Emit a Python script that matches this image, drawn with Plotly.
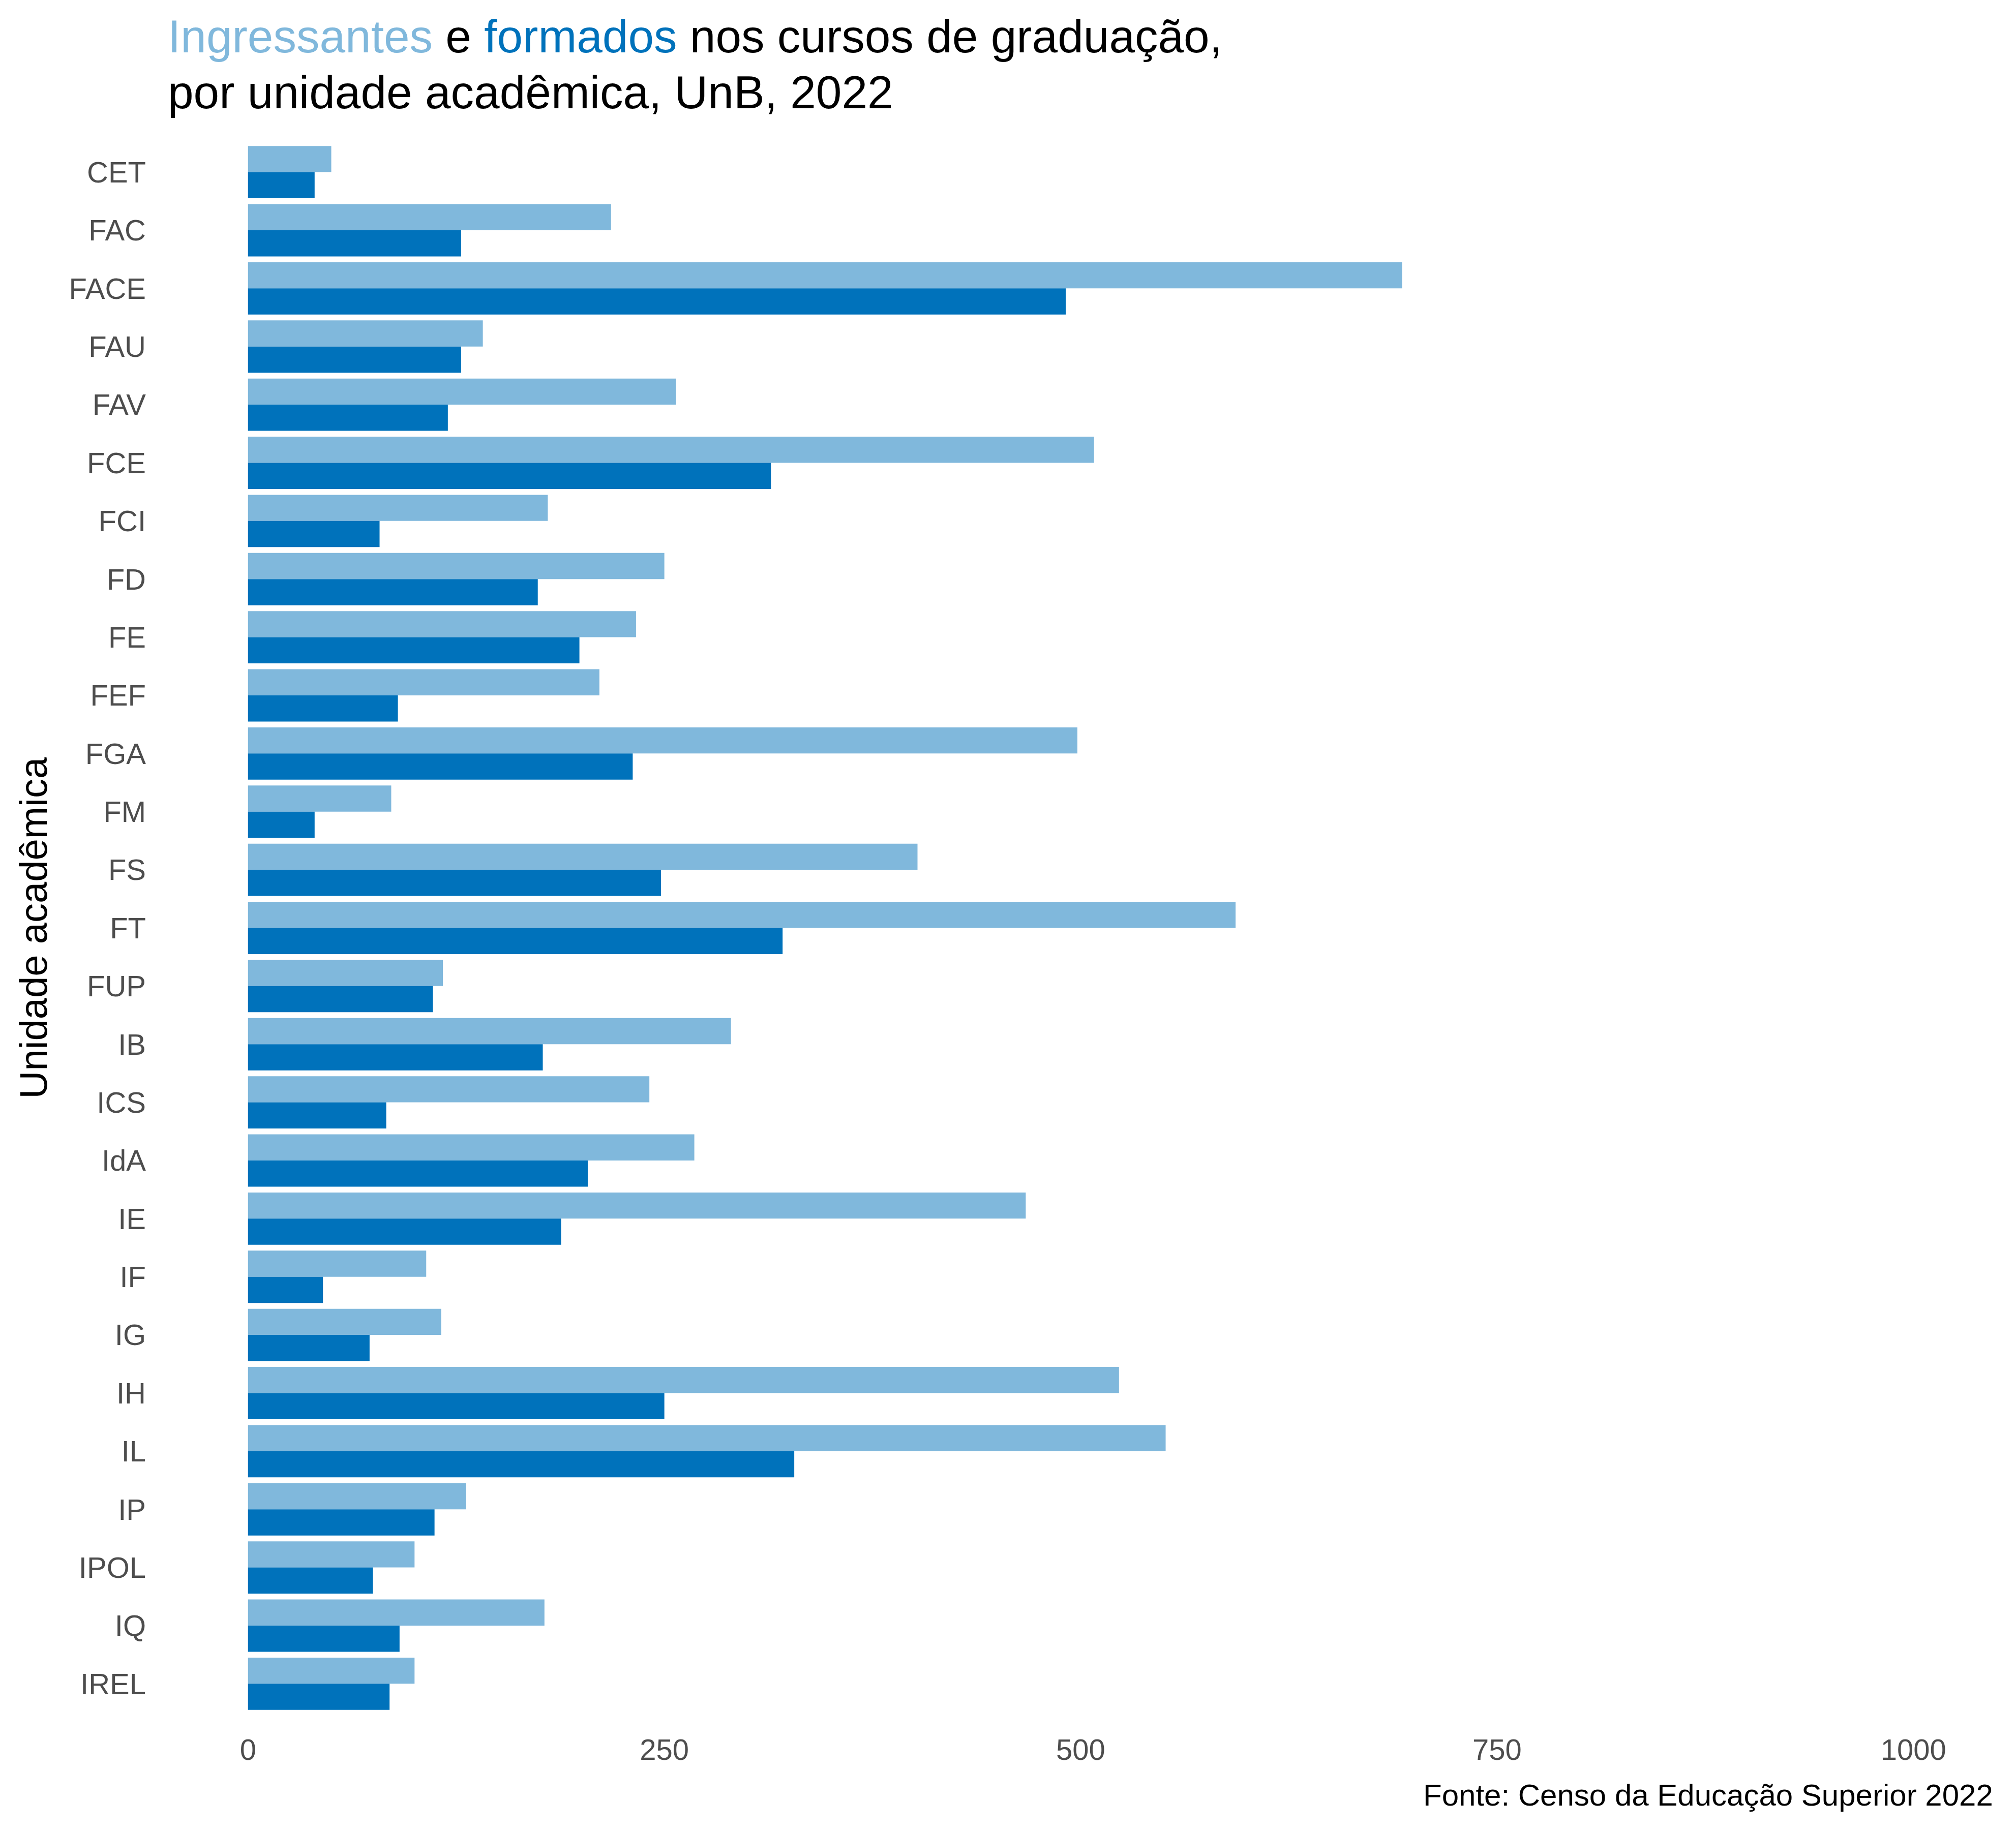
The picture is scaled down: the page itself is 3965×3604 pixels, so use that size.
import plotly.graph_objects as go

unidades = ["CET", "FAC", "FACE", "FAU", "FAV", "FCE", "FCI", "FD", "FE", "FEF",
            "FGA", "FM", "FS", "FT", "FUP", "IB", "ICS", "IdA", "IE", "IF",
            "IG", "IH", "IL", "IP", "IPOL", "IQ", "IREL"]
ingressantes = [50, 218, 693, 141, 257, 508, 180, 250, 233, 211,
                498, 86, 402, 593, 117, 290, 241, 268, 467, 107,
                116, 523, 551, 131, 100, 178, 100]
formados = [40, 128, 491, 128, 120, 314, 79, 174, 199, 90,
            231, 40, 248, 321, 111, 177, 83, 204, 188, 45,
            73, 250, 328, 112, 75, 91, 85]
x_ticks = [0, 250, 500, 750, 1000]

COR_ING = "#80B8DC"
COR_FOR = "#0072BB"
FONT = "Liberation Sans, Arial, sans-serif"

OFF = 8  # browser default body margin
W, H = 3965, 3604
L, R, T, B = 324 - OFF, 38 + OFF, 270 - OFF, 223 + OFF
pw, ph = W - L - R, H - T - B

def px_x(p):
    return (p - OFF - L) / pw

def px_y(p):
    return (H - B - (p - OFF)) / ph

fig = go.Figure()
fig.add_trace(go.Bar(y=unidades, x=ingressantes, orientation="h",
                     marker=dict(color=COR_ING, line=dict(width=0)), name="Ingressantes"))
fig.add_trace(go.Bar(y=unidades, x=formados, orientation="h",
                     marker=dict(color=COR_FOR, line=dict(width=0)), name="Formados"))

fig.update_layout(
    width=W, height=H,
    margin=dict(l=L, r=R, t=T, b=B, pad=0),
    barmode="group", bargap=0.1, bargroupgap=0,
    plot_bgcolor="white", paper_bgcolor="white",
    showlegend=False,
    font=dict(family=FONT, color="#4D4D4D", size=58),
)
fig.update_xaxes(range=[-50, 1050], tickvals=x_ticks, ticktext=[str(v) for v in x_ticks],
                 showgrid=False, zeroline=False, showline=False, ticks="",
                 tickfont=dict(size=58, color="#4D4D4D", family=FONT),
                 ticklabelstandoff=22)
fig.update_yaxes(categoryorder="array", categoryarray=unidades,
                 range=[len(unidades) - 0.4, -0.6],
                 showgrid=False, zeroline=False, showline=False, ticks="",
                 tickfont=dict(size=58, color="#4D4D4D", family=FONT),
                 ticklabelstandoff=36)

title1 = (f"<span style='color:{COR_ING}'>Ingressantes</span> e "
          f"<span style='color:{COR_FOR}'>formados</span> nos cursos de graduação,")
title2 = "por unidade acadêmica, UnB, 2022"
fs_t = 91
fig.add_annotation(text=title1, xref="paper", yref="paper", x=px_x(328), y=px_y(103 - 0.3465 * fs_t),
                   xanchor="left", yanchor="middle", showarrow=False,
                   font=dict(family=FONT, size=fs_t, color="black"))
fig.add_annotation(text=title2, xref="paper", yref="paper", x=px_x(328), y=px_y(213 - 0.3465 * fs_t),
                   xanchor="left", yanchor="middle", showarrow=False,
                   font=dict(family=FONT, size=fs_t, color="black"))
fig.add_annotation(text="Unidade acadêmica", xref="paper", yref="paper",
                   x=px_x(65), y=0.5, textangle=-90, xanchor="center", yanchor="middle",
                   showarrow=False, font=dict(family=FONT, size=76, color="black"))
fig.add_annotation(text="Fonte: Censo da Educação Superior 2022", xref="paper", yref="paper",
                   x=px_x(3922), y=px_y(3552 - 0.3465 * 60), xanchor="right", yanchor="middle",
                   showarrow=False, font=dict(family=FONT, size=60, color="black"))

fig.write_html("out.html")
